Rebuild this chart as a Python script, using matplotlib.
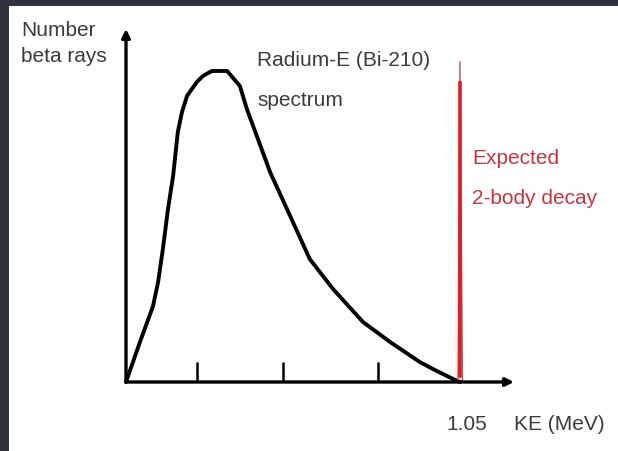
import matplotlib
matplotlib.use("Agg")
import matplotlib.pyplot as plt
from matplotlib.patches import Rectangle

plt.rcParams['font.family'] = ['Liberation Sans', 'DejaVu Sans']

# Radium-E (Bi-210) beta spectrum (arbitrary units, peak = 1)
ke_mev = [0.0, 0.044, 0.085, 0.101, 0.116, 0.132, 0.148, 0.163, 0.176, 0.192,
          0.223, 0.242, 0.270, 0.318, 0.358, 0.380, 0.453, 0.516, 0.578, 0.651,
          0.745, 0.830, 0.924, 0.978, 1.028, 1.050]
counts = [0.0, 0.129, 0.244, 0.322, 0.428, 0.556, 0.662, 0.804, 0.868, 0.920,
          0.965, 0.984, 1.0, 1.0, 0.952, 0.878, 0.675, 0.534, 0.395, 0.299,
          0.193, 0.129, 0.064, 0.035, 0.010, 0.0]

tick_pos = [0.223, 0.494, 0.792]
endpoint = 1.05          # expected 2-body decay energy
spike_height = 1.03

W, H = 618, 452
fig = plt.figure(figsize=(W / 100, H / 100), dpi=100, facecolor='#2e323d')

# white slide panel
fig.patches.append(Rectangle((9 / W, 0), 1, 1 - 7 / H, transform=fig.transFigure,
                             facecolor='white', edgecolor='none', zorder=-1))

ax = fig.add_axes([126 / W, (H - 383) / H, (514 - 126) / W, (383 - 30) / H])
ax.set_zorder(2)
ax.set_xlim(0, 1.22)
ax.set_ylim(0, 1.135)
ax.patch.set_alpha(0)
for s in ax.spines.values():
    s.set_visible(False)
ax.set_xticks([])
ax.set_yticks([])

# axes with arrow heads
arrow = dict(arrowstyle='-|>', lw=2.4, color='black', mutation_scale=12,
             shrinkA=0, shrinkB=0)
ax.annotate('', xy=(1.22, 0), xytext=(0, 0), arrowprops=arrow, annotation_clip=False)
ax.annotate('', xy=(0, 1.135), xytext=(0, 0), arrowprops=arrow, annotation_clip=False)

ax.vlines(tick_pos, 0, 0.064, color='black', lw=1.8)

ax.plot(ke_mev, counts, color='black', lw=2.8, solid_joinstyle='round',
        solid_capstyle='round', clip_on=False)

# expected monoenergetic line
ax.plot([endpoint - 0.006, endpoint, endpoint + 0.008], [0, spike_height, 0],
        color='#b85a5a', lw=1.0, clip_on=False)
ax.plot([endpoint, endpoint], [0.02, spike_height - 0.07], color='#e8191e',
        lw=2.6, clip_on=False)

gray = '#3b3b3b'
red = '#c5363f'


def ftext(x, y, s, color=gray):
    fig.text(x / W, 1 - y / H, s, color=color, fontsize=15, va='center', ha='left')


ftext(21, 30, 'Number')
ftext(21, 56, 'beta rays')
ftext(257, 61, 'Radium-E (Bi-210)')
ftext(257, 101, 'spectrum')
ftext(472, 158, 'Expected', red)
ftext(472, 199, '2-body decay', red)
ftext(446, 425, '1.05')
ftext(514, 425, 'KE (MeV)')

fig.savefig('out.png', dpi=100, facecolor=fig.get_facecolor())
